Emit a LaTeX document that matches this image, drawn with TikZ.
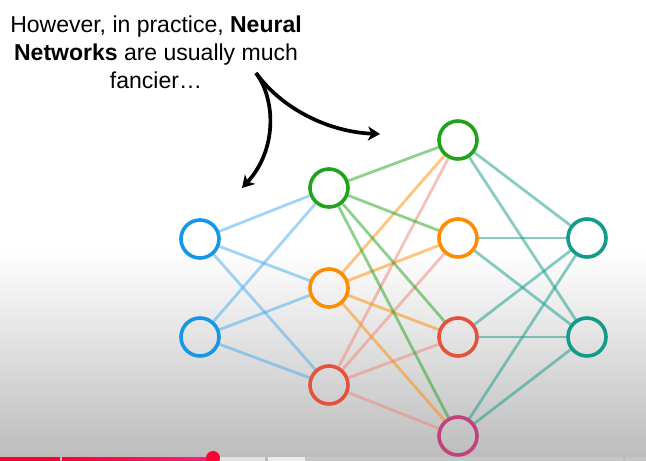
\documentclass[tikz,border=0pt]{standalone}
\usepackage{fontspec}
\setmainfont{Liberation Sans}
\usetikzlibrary{arrows.meta}
\definecolor{inblue}{HTML}{1696E8}
\definecolor{hgreen}{HTML}{1FA31A}
\definecolor{horange}{HTML}{FF8C00}
\definecolor{hred}{HTML}{E4513C}
\definecolor{hmag}{HTML}{C2417E}
\definecolor{oteal}{HTML}{129A8A}
\definecolor{ytred}{HTML}{FF0033}
\definecolor{ytpink}{HTML}{F0257A}
\definecolor{barlight}{HTML}{E2E2E2}
\definecolor{bargrey}{HTML}{C6C6C6}
\definecolor{bgbottom}{HTML}{BBBBBB}
\tikzset{
  neuron/.style={circle, draw=#1, line width=3.6pt, minimum size=38pt, inner sep=0pt},
  wire/.style={draw=#1, line width=2.8pt, opacity=0.5},
  callout/.style={draw=black, line width=3.7pt, -{Stealth[length=12pt,width=14pt,inset=3.5pt]}},
  caption/.style={align=center, font=\fontsize{23pt}{27.8pt}\selectfont, inner sep=0pt, text=black}
}
\begin{document}
\begin{tikzpicture}[x=1pt,y=-1pt]
\useasboundingbox (0,0) rectangle (646,461);
% background
\fill[white] (0,0) rectangle (646,461);
\shade[top color=white, bottom color=bgbottom] (0,250) rectangle (646,461);

% neurons
\node[neuron=inblue] (i1) at (200,239) {};
\node[neuron=inblue] (i2) at (200,337) {};
\node[neuron=hgreen] (a1) at (329,188) {};
\node[neuron=horange] (a2) at (329,288) {};
\node[neuron=hred] (a3) at (329,385) {};
\node[neuron=hgreen] (b1) at (458,140) {};
\node[neuron=horange] (b2) at (458,238) {};
\node[neuron=hred] (b3) at (458,337) {};
\node[neuron=hmag] (b4) at (458,436) {};
\node[neuron=oteal] (o1) at (587,238) {};
\node[neuron=oteal] (o2) at (587,337) {};

% connections
\foreach \s in {i1,i2}{\foreach \t in {a1,a2,a3}{\path[wire=inblue!80] (\s) -- (\t);}}
\foreach \t in {b1,b2,b3,b4}{\path[wire=hred!70] (a3) -- (\t);}
\foreach \t in {b1,b2,b3,b4}{\path[wire=horange] (a2) -- (\t);}
\foreach \t in {b1,b2,b3,b4}{\path[wire=hgreen] (a1) -- (\t);}
\foreach \s in {b1,b2,b3,b4}{\foreach \t in {o1,o2}{\path[wire=oteal] (\s) -- (\t);}}

% caption
\node[caption, anchor=north] (cap) at (156,16) {However, in practice, \textbf{Neural}\\\textbf{Networks} are usually much\\fancier…};

% arrows
\coordinate (cusp) at (256,73);
\coordinate (leftend) at (242,188);
\coordinate (rightend) at (380,134);
\draw[callout] (cusp) .. controls (276,100) and (277,150) .. (leftend);
\draw[callout] (cusp) .. controls (283,110) and (330,132) .. (rightend);

% progress bar
\fill[ytred] (0,457) rectangle (60,461);
\shade[left color=ytred, right color=ytpink] (62,457) rectangle (213,461);
\fill[barlight] (213,457) rectangle (265,461);
\fill[barlight!70!white] (268,457) rectangle (305,461);
\fill[bargrey] (305,457) rectangle (623,461);
\fill[bargrey] (626,457) rectangle (646,461);
\fill[ytred] (213,458) circle (7);
\end{tikzpicture}
\end{document}
